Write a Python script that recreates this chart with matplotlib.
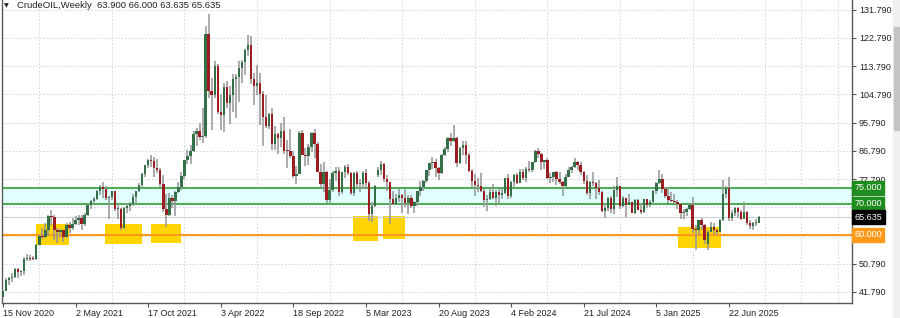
import numpy as np
import matplotlib
matplotlib.use('Agg')
import matplotlib.pyplot as plt
import matplotlib.transforms as mtransforms
from matplotlib.patches import Rectangle

plt.rcParams['font.family'] = ['Liberation Sans', 'DejaVu Sans']

# weekly bars, first bar = week of 15 Nov 2020
opens = [40.1, 42.2, 45.5, 46.3, 46.6, 49.1, 48.2,
         48.5, 52.2, 52.4, 52.3, 52.2, 56.9, 59.5, 59.2, 61.5, 66.1, 65.6, 61.4, 61.0, 61.5, 59.3, 63.1,
         62.1, 63.6, 64.9, 65.4, 63.6, 66.3, 69.6, 70.9, 71.6, 74.1, 75.2, 74.6, 71.8, 72.1, 74.0, 68.3,
         68.4, 62.3, 68.7, 69.3, 69.7, 72.0, 74.0, 75.9, 79.4, 82.3, 83.8, 83.6, 81.3, 80.8, 76.1, 68.2,
         66.3, 71.7, 70.9, 73.8,
         75.2, 78.9, 83.8, 85.1, 86.8, 92.3, 93.1, 91.1, 91.6, 124.0, 106.0, 104.7, 113.9, 99.3, 98.3,
         107.0, 102.1, 104.7, 109.8, 110.5, 113.2, 115.1, 118.9, 120.7, 109.6, 107.6, 108.4, 104.8, 97.6,
         94.7, 98.6, 89.0, 92.1, 90.8, 93.1, 86.9, 86.8, 85.1, 78.7, 79.5, 92.6, 85.6, 85.1, 87.9, 92.6,
         89.0, 80.1, 76.3, 80.0, 71.0, 74.3, 79.6,
         80.3, 73.8, 79.9, 81.6, 79.7, 73.4, 79.7, 76.3, 76.3, 79.7, 76.7, 66.7, 69.3, 79.0, 80.7, 82.5,
         77.9, 76.8, 71.3, 70.0, 71.7, 72.7, 71.7, 70.2, 71.8, 69.2, 70.6, 73.9, 75.4, 77.1, 80.6, 82.8,
         83.2, 81.3, 79.8, 85.6, 87.5, 90.8, 90.0, 90.8, 82.8, 87.7, 88.8, 85.5, 80.5, 77.2, 75.9, 75.5,
         74.1, 71.2, 71.4, 73.6,
         71.7, 73.8, 72.7, 73.4, 78.0, 72.3, 76.8, 79.2, 76.5, 80.0, 78.0, 81.0, 80.6, 83.2, 86.9, 85.7,
         83.1, 83.9, 78.1, 78.3, 80.1, 77.7, 77.0, 75.5, 78.5, 80.7, 81.5, 83.2, 82.2, 80.1, 77.2, 73.5,
         76.8, 76.7, 74.8, 73.6, 67.7, 68.7, 71.9, 68.2, 74.4, 75.6, 69.2, 71.8, 69.5, 70.4, 67.0, 71.2,
         68.0, 67.2, 71.3, 69.5,
         70.6, 74.0, 76.6, 77.9, 74.7, 72.5, 71.0, 70.7, 70.4, 69.8, 67.0, 67.2, 68.3, 69.4, 62.0, 61.5,
         64.7, 63.0, 57.0, 61.0, 62.5, 61.5, 60.8, 64.6, 73.0, 74.9, 65.5, 67.0, 68.5, 67.3, 65.2, 67.3,
         63.9, 62.8, 63.7, 63.9]
highs = [42.5, 46.3, 46.7, 47.7, 49.3, 49.3, 48.9,
         52.8, 53.9, 53.6, 53.3, 57.0, 60.0, 62.3, 63.8, 66.4, 68.0, 66.4, 62.3, 62.0, 61.6, 63.8, 64.0,
         65.5, 66.0, 66.5, 66.2, 67.0, 69.8, 71.0, 72.0, 74.2, 76.0, 76.9, 75.5, 72.3, 74.0, 74.1, 69.9,
         68.5, 69.0, 70.1, 70.5, 73.0, 74.0, 76.7, 79.8, 82.4, 84.3, 85.4, 84.9, 84.1, 81.3, 79.2, 72.9,
         73.3, 72.8, 73.9, 77.0,
         80.2, 84.0, 87.1, 88.8, 93.2, 94.0, 95.8, 100.5, 126.5, 130.5, 110.0, 115.4, 114.5, 105.0, 108.5,
         109.2, 107.5, 111.4, 111.4, 115.5, 115.7, 119.4, 123.7, 123.3, 111.6, 114.1, 111.5, 106.0, 104.5,
         99.0, 100.5, 94.6, 92.4, 95.7, 97.7, 90.4, 93.7, 86.9, 82.0, 93.0, 93.6, 87.7, 89.1, 92.8, 93.7,
         89.6, 82.5, 83.3, 80.3, 77.9, 80.3, 81.5,
         81.5, 80.1, 82.4, 82.7, 79.9, 80.0, 80.5, 77.7, 80.5, 81.0, 77.1, 70.5, 76.0, 81.8, 83.5, 82.8,
         79.2, 76.9, 74.0, 73.0, 74.7, 73.1, 75.0, 72.7, 72.7, 70.8, 74.0, 77.3, 77.4, 80.8, 83.0, 84.9,
         84.3, 81.7, 85.8, 88.1, 91.1, 92.4, 95.0, 91.2, 88.0, 90.0, 89.8, 86.0, 81.0, 79.3, 78.0, 79.7,
         74.5, 72.8, 75.0, 76.2,
         74.3, 75.3, 74.5, 78.2, 79.3, 77.2, 79.3, 79.6, 80.9, 80.9, 81.5, 83.5, 83.3, 87.0, 87.7, 86.0,
         84.0, 84.4, 79.6, 80.1, 80.4, 80.1, 77.1, 79.4, 81.7, 82.0, 84.5, 83.5, 83.1, 80.5, 79.2, 77.2,
         80.2, 76.9, 77.6, 73.9, 69.9, 72.0, 72.4, 75.6, 78.5, 75.6, 72.5, 71.9, 72.9, 70.5, 71.4, 71.4,
         70.3, 71.4, 71.4, 71.0,
         74.2, 77.0, 80.8, 79.3, 75.2, 75.2, 73.7, 72.9, 71.0, 70.0, 68.4, 68.6, 70.2, 72.0, 63.3, 64.9,
         65.3, 63.5, 61.5, 64.0, 63.7, 62.0, 65.2, 77.6, 75.7, 78.4, 68.0, 69.0, 69.0, 68.0, 70.5, 67.5,
         64.6, 64.0, 65.0, 66.0]
lows = [39.9, 42.0, 43.9, 45.0, 46.3, 46.2, 47.0,
        47.2, 51.8, 51.6, 51.9, 52.0, 56.8, 58.6, 59.0, 59.5, 63.1, 58.3, 57.3, 58.9, 57.6, 58.9, 60.7,
        61.6, 63.3, 63.2, 61.6, 62.9, 66.1, 68.3, 70.0, 71.2, 72.6, 71.7, 71.0, 65.0, 71.1, 67.6, 65.2,
        61.7, 62.0, 67.0, 67.6, 69.3, 69.6, 73.7, 74.9, 78.4, 81.2, 81.8, 78.3, 79.7, 75.4, 67.4, 62.4,
        66.1, 68.6, 66.0, 73.3,
        74.3, 77.9, 82.5, 82.7, 86.5, 88.5, 90.2, 89.2, 91.0, 103.5, 93.5, 103.5, 98.4, 93.4, 92.9,
        100.4, 95.3, 99.1, 97.4, 102.5, 108.3, 111.1, 117.1, 108.0, 101.5, 104.6, 95.1, 88.3, 94.1,
        93.8, 87.1, 87.2, 85.7, 88.1, 85.7, 81.2, 84.5, 78.1, 76.3, 79.3, 85.5, 82.1, 82.3, 86.3, 84.5,
        79.9, 75.1, 73.6, 70.1, 70.3, 73.8, 77.3,
        72.5, 73.1, 78.1, 79.1, 72.6, 72.3, 75.1, 73.8, 74.6, 74.6, 64.4, 64.1, 68.8, 78.6, 79.2, 77.0,
        74.0, 63.6, 69.6, 69.6, 70.6, 67.0, 68.8, 66.8, 68.5, 67.1, 69.1, 72.5, 73.9, 76.6, 78.8, 81.0,
        78.6, 77.6, 79.3, 85.0, 86.4, 88.4, 89.5, 81.5, 82.5, 85.5, 82.5, 80.1, 75.2, 72.4, 73.8, 73.8,
        68.8, 67.7, 71.1, 71.3,
        69.3, 70.1, 71.4, 73.1, 71.4, 71.7, 75.4, 76.2, 76.4, 77.5, 76.9, 80.0, 80.2, 83.0, 84.5, 80.7,
        81.1, 77.9, 76.7, 76.8, 76.0, 76.2, 72.5, 75.3, 78.4, 79.7, 81.4, 80.6, 79.2, 76.3, 72.8, 71.6,
        75.5, 71.5, 72.8, 67.2, 65.3, 67.6, 67.1, 66.8, 72.1, 68.2, 69.0, 65.7, 69.4, 66.9, 66.6, 67.9,
        66.8, 66.9, 68.6, 68.9,
        70.0, 72.9, 76.1, 73.5, 71.9, 70.3, 70.5, 70.2, 68.3, 65.2, 65.2, 66.0, 68.0, 60.7, 55.1, 59.9,
        61.7, 57.0, 55.3, 60.8, 60.3, 60.0, 60.8, 64.3, 71.8, 64.4, 64.5, 66.0, 65.4, 64.7, 65.0, 63.0,
        61.9, 61.5, 62.9, 63.635]
closes = [42.2, 45.5, 46.3, 46.6, 49.1, 48.2, 48.5,
          52.2, 52.4, 52.3, 52.2, 56.9, 59.5, 59.2, 61.5, 66.1, 65.6, 61.4, 61.0, 61.5, 59.3, 63.1, 62.1,
          63.6, 64.9, 65.4, 63.6, 66.3, 69.6, 70.9, 71.6, 74.1, 75.2, 74.6, 71.8, 72.1, 74.0, 68.3, 68.4,
          62.3, 68.7, 69.3, 69.7, 72.0, 74.0, 75.9, 79.4, 82.3, 83.8, 83.6, 81.3, 80.8, 76.1, 68.2, 66.3,
          71.7, 70.9, 73.8, 75.2,
          78.9, 83.8, 85.1, 86.8, 92.3, 93.1, 91.1, 91.6, 124.0, 106.0, 104.7, 113.9, 99.3, 98.3, 107.0,
          102.1, 104.7, 109.8, 110.5, 113.2, 115.1, 118.9, 120.7, 109.6, 107.6, 108.4, 104.8, 97.6, 94.7,
          98.6, 89.0, 92.1, 90.8, 93.1, 86.9, 86.8, 85.1, 78.7, 79.5, 92.6, 85.6, 85.1, 87.9, 92.6, 89.0,
          80.1, 76.3, 80.0, 71.0, 74.3, 79.6, 80.3,
          73.8, 79.9, 81.6, 79.7, 73.4, 79.7, 76.3, 76.3, 79.7, 76.7, 66.7, 69.3, 75.7, 80.7, 82.5, 77.9,
          76.8, 71.3, 70.0, 71.7, 72.7, 71.7, 70.2, 71.8, 69.2, 70.6, 73.9, 75.4, 77.1, 80.6, 82.8, 83.2,
          81.3, 79.8, 85.6, 87.5, 90.8, 90.0, 90.8, 82.8, 87.7, 88.8, 85.5, 80.5, 77.2, 75.9, 75.5, 74.1,
          71.2, 71.4, 73.6, 71.7,
          73.8, 72.7, 73.4, 78.0, 72.3, 76.8, 79.2, 76.5, 80.0, 78.0, 81.0, 80.6, 83.2, 86.9, 85.7, 83.1,
          83.9, 78.1, 78.3, 80.1, 77.7, 77.0, 75.5, 78.5, 80.7, 81.5, 83.2, 82.2, 80.1, 77.2, 73.5, 76.8,
          76.7, 74.8, 73.6, 67.7, 68.7, 71.9, 68.2, 74.4, 75.6, 69.2, 71.8, 69.5, 70.4, 67.0, 71.2, 68.0,
          67.2, 71.3, 69.5, 70.6,
          74.0, 76.6, 77.9, 74.7, 72.5, 71.0, 70.7, 70.4, 69.8, 67.0, 67.2, 68.3, 69.4, 62.0, 61.5, 64.7,
          63.0, 58.3, 61.0, 62.5, 61.5, 60.8, 64.6, 73.0, 74.9, 65.5, 67.0, 68.5, 67.3, 65.2, 67.3, 63.9,
          62.8, 63.7, 63.9, 65.635]

date_ticks = [0, 24, 48, 72, 96, 120, 144, 168, 192, 216, 240]
date_labels = ['15 Nov 2020', '2 May 2021', '17 Oct 2021', '3 Apr 2022', '18 Sep 2022', '5 Mar 2023',
               '20 Aug 2023', '4 Feb 2024', '21 Jul 2024', '5 Jan 2025', '22 Jun 2025']
price_ticks = [41.79, 50.79, 59.79, 68.79, 77.79, 86.79, 95.79, 104.79, 113.79, 122.79, 131.79]

# zones marked on the chart: (first bar, last bar, low, high)
zone_x0 = [10.9, 33.7, 48.9, 115.7, 125.6, 223.1]
zone_x1 = [21.8, 46.0, 58.8, 124.0, 132.9, 237.4]
zone_lo = [56.8, 57.1, 57.4, 58.0, 58.7, 55.8]
zone_hi = [63.4, 63.5, 63.5, 66.0, 66.0, 62.5]

level_top = 75.0
level_mid = 70.0
level_low = 60.0
last_price = 65.635

o = np.array(opens)
h = np.array(highs)
l = np.array(lows)
c = np.array(closes)
x = np.arange(len(c))

fig = plt.figure(figsize=(9, 3.18), dpi=100)
ax = fig.add_axes([2/900, 15/318, 850/900, 303/318])

ax.set_xlim(-0.33, 280.7)
ax.set_ylim(38.28, 134.9)

# grid (vertical lines sit between date labels)
for g in [12, 36, 60, 84, 108, 132, 156, 180, 204, 228, 252, 264, 276]:
    ax.axvline(g, color='#c9d3e3', lw=0.7, ls=(0, (1.5, 2)), zorder=0.5)
for p in price_ticks:
    ax.axhline(p, color='#c9d3e3', lw=0.7, ls=(0, (1.5, 2)), zorder=0.5)

ax.axhspan(level_mid, level_top, color='#e0ffff', zorder=1)
for i in range(len(zone_x0)):
    ax.add_patch(Rectangle((zone_x0[i], zone_lo[i]), zone_x1[i]-zone_x0[i], zone_hi[i]-zone_lo[i],
                           color='#ffd400', lw=0, zorder=1.5))

ax.axhline(level_top, color='#3fa543', lw=1.3, zorder=2)
ax.axhline(level_mid, color='#3fa543', lw=1.3, zorder=2)
ax.axhline(level_low, color='#ff9a1a', lw=1.5, zorder=2)
ax.axhline(last_price, color='#c8d0dc', lw=0.8, zorder=1.8)

# candles
up = c >= o
ax.vlines(x, l, h, color='#959595', lw=1.1, zorder=3)
body = np.maximum(np.abs(c - o), 0.3)
ax.bar(x[up], body[up], bottom=o[up], width=0.8, color='#336f47', lw=0, zorder=4)
ax.bar(x[~up], body[~up], bottom=c[~up], width=0.8, color='#9c1c1f', lw=0, zorder=4)

ax.yaxis.tick_right()
ax.set_yticks(price_ticks)
# 59.790 sits fully under the 60.000 tag in the original
ax.set_yticklabels(['' if p == 59.79 else '%.3f' % p for p in price_ticks])
ax.set_xticks(date_ticks)
ax.set_xticklabels(date_labels, ha='left')
ax.tick_params(axis='both', labelsize=6.5, labelcolor='#222222', color='#555555', length=3, width=0.8, pad=2)
ax.tick_params(axis='x', pad=1)

for side in ['left', 'bottom', 'right']:
    ax.spines[side].set_color('#5a5a5a')
    ax.spines[side].set_linewidth(1)
ax.spines['top'].set_visible(False)

# price tags on the right scale
trans = mtransforms.blended_transform_factory(ax.transAxes, ax.transData)
tags = [(level_top, '75.000', '#1e8c1e'), (level_mid, '70.000', '#1e8c1e'),
        (last_price, '65.635', '#000000'), (level_low, '60.000', '#ff9a1a')]
for val, txt, col in tags:
    ax.text(1.003, val, txt, transform=trans, fontsize=6.5, color='white', ha='left', va='center',
            bbox=dict(boxstyle='square,pad=0.25', fc=col, ec=col), zorder=6, clip_on=False)

fig.text(4/900, 1 - 6/318, '\u25bc', fontsize=4.5, color='#222222', va='center', ha='left',
         family=['DejaVu Sans'])
fig.text(17/900, 1 - 6/318, 'CrudeOIL,Weekly  63.900 66.000 63.635 65.635', fontsize=6.8,
         color='#222222', va='center', ha='left')

# scroll bar at the right edge
fig.patches.append(Rectangle((893/900, 0), 7/900, 1, transform=fig.transFigure, color='#f0f0f0', zorder=0))
fig.patches.append(Rectangle((894/900, 1 - 130/318), 5/900, 103/318, transform=fig.transFigure,
                             color='#c4c4c4', zorder=1))

fig.savefig('out.png', dpi=100)
